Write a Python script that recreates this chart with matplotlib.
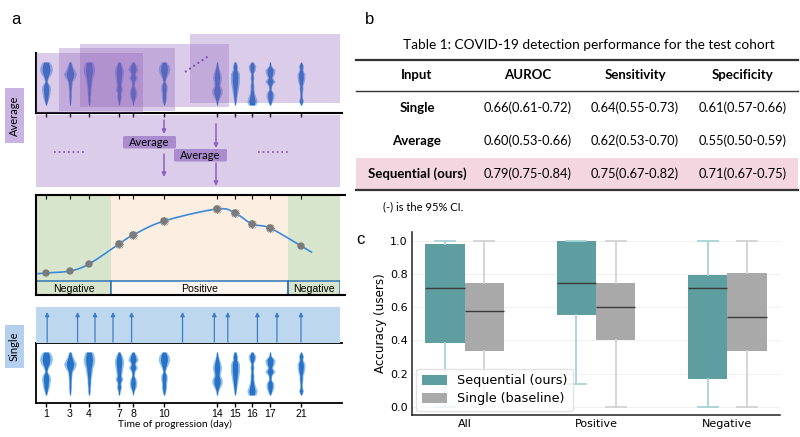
import numpy as np
import matplotlib
matplotlib.use("Agg")
import matplotlib.pyplot as plt
from matplotlib.patches import Rectangle, FancyBboxPatch, Patch

# ---------------- data ----------------
days = [1, 3, 4, 7, 8, 10, 14, 15, 16, 17, 21]
# horizontal slot of each recording on the (warped) time axis of panel a, in px
day_pos = [46, 70, 89, 119, 133, 164, 217, 235, 252, 270, 301]
# spectrogram-like half-width profiles (top -> bottom) for each recording
spec_halfwidth = [
    [3, 4.5, 5, 4, 2, 1, 3, 3.5, 3, 2.5, 1.5, 0.5],
    [1, 2, 3.5, 5, 4, 2, 1.5, 1.2, 1, 1, 0.8, 0.5],
    [3, 4, 4.5, 4, 3, 2.5, 2, 1.5, 1.5, 1, 1, 0.5],
    [1, 2.5, 3.5, 3.5, 3, 2.5, 2, 3, 1.5, 2, 1, 0.5],
    [1, 3, 4, 2, 3.5, 1.5, 1, 2.5, 3, 2.5, 1, 0.3],
    [2, 4, 4.5, 3.5, 2, 1, 2.5, 2.5, 2, 2, 1.5, 0.5],
    [0.5, 1, 2, 3, 3.5, 3, 2.5, 4, 4, 2.5, 1, 0.5],
    [1, 2, 2, 3.5, 3.5, 3.5, 3, 2.5, 2, 1.5, 1, 0.5],
    [1, 3, 2.5, 1, 1.5, 1, 1.5, 1.5, 2, 3, 4, 3],
    [0.5, 1, 4, 3.5, 2, 4, 1.5, 1, 3, 3, 2, 0.5],
    [0.5, 2, 1.5, 3, 3, 2.5, 1.5, 1.5, 1, 1, 2, 0.5],
]
score = [0.22, 0.24, 0.31, 0.51, 0.60, 0.74, 0.86, 0.82, 0.71, 0.67, 0.49]
status = ["neg", "neg", "neg", "pos", "pos", "pos", "pos", "pos", "pos", "pos", "neg"]
phase_edges_day = [6.2, 19.3]
phase_labels = ["Negative", "Positive", "Negative"]
single_arrow_day = [1.1, 3.4, 4.6, 6.4, 7.9, 11.4, 13.8, 14.6, 16.3, 17.9, 21.1]

table_title = "Table 1: COVID-19 detection performance for the test cohort"
table_header = ["Input", "AUROC", "Sensitivity", "Specificity"]
table_inputs = ["Single", "Average", "Sequential (ours)"]
auroc = ["0.66(0.61-0.72)", "0.60(0.53-0.66)", "0.79(0.75-0.84)"]
sensitivity = ["0.64(0.55-0.73)", "0.62(0.53-0.70)", "0.75(0.67-0.82)"]
specificity = ["0.61(0.57-0.66)", "0.55(0.50-0.59)", "0.71(0.67-0.75)"]
table_note = "(-) is the 95% CI."

groups = ["All", "Positive", "Negative"]
seq_lo = [0.0, 0.135, 0.0]
seq_q1 = [0.385, 0.555, 0.165]
seq_med = [0.715, 0.75, 0.715]
seq_q3 = [0.98, 1.0, 0.795]
seq_hi = [1.0, 1.0, 1.0]
base_lo = [0.0, 0.0, 0.0]
base_q1 = [0.335, 0.40, 0.335]
base_med = [0.575, 0.60, 0.54]
base_q3 = [0.75, 0.75, 0.81]
base_hi = [1.0, 1.0, 1.0]
series_names = ["Sequential (ours)", "Single (baseline)"]

# ---------------- figure ----------------
W, H = 800, 437
fig = plt.figure(figsize=(W / 100, H / 100), dpi=100)

def px_axes(x0, y0, x1, y1, **kw):
    return fig.add_axes([x0 / W, 1 - y1 / H, (x1 - x0) / W, (y1 - y0) / H], **kw)

PURPLE = "#8a5cb8"
ARROW_P = "#8e5fc0"
BLUE_LINE = "#2e75b6"
ARIAL = "Liberation Sans"
CAL = "Lato"

def draw_blobs(ax, with_bg=False):
    for x, prof in zip(day_pos, spec_halfwidth):
        w = 1.3 * np.array(prof, dtype=float)
        ys = np.linspace(51, 8, len(w))
        if with_bg:
            ax.add_patch(Rectangle((x - 6.5, 7), 13, 45, facecolor="white", alpha=0.45, lw=0, zorder=1))
        ax.fill_betweenx(ys, x - w, x + w, color="#4a97e0", alpha=0.6, lw=0, zorder=2)
        ax.fill_betweenx(ys, x - 0.6 * w, x + 0.6 * w, color="#1565c0", alpha=0.85, lw=0, zorder=3)

# --- top row (inputs for averaging)
ax_top = px_axes(36, 53, 342, 113)
ax_top.set_xlim(36, 342)
ax_top.set_ylim(0, 60)
ax_top.patch.set_alpha(0)
draw_blobs(ax_top, with_bg=True)
for s in ["top", "right"]:
    ax_top.spines[s].set_visible(False)
for s in ["left", "bottom"]:
    ax_top.spines[s].set_linewidth(1.5)
ax_top.set_xticks(day_pos)
ax_top.set_xticklabels([])
ax_top.set_yticks([])
ax_top.tick_params(axis="x", length=3, width=1)

# --- middle panel (sequential)
ax_mid = px_axes(36, 195, 340, 295)
ax_mid.set_xlim(36, 340)
ax_mid.set_ylim(0, 1)
edges_px = list(np.interp(phase_edges_day, days, day_pos))
bounds = [36] + edges_px + [340]
phase_cols = ["#d6e5cb", "#fcefe2", "#d6e5cb"]
for i in range(3):
    ax_mid.axvspan(bounds[i], bounds[i + 1], color=phase_cols[i], lw=0, zorder=0)
    ax_mid.add_patch(Rectangle((bounds[i], 0), bounds[i + 1] - bounds[i], 0.145,
                               facecolor="none" if i != 1 else "#fdf6ef",
                               edgecolor=BLUE_LINE, lw=1.1, zorder=2))
    ax_mid.text((bounds[i] + bounds[i + 1]) / 2, 0.065, phase_labels[i], ha="center", va="center",
                fontsize=7.6, family=ARIAL, zorder=3)

def catmull_rom(xs, ys, n=24):
    P = np.column_stack([xs, ys]).astype(float)
    P = np.vstack([2 * P[0] - P[1], P, 2 * P[-1] - P[-2]])
    out = []
    t = np.linspace(0, 1, n, endpoint=False)[:, None]
    for i in range(1, len(P) - 2):
        p0, p1, p2, p3 = P[i - 1], P[i], P[i + 1], P[i + 2]
        out.append(0.5 * (2 * p1 + (-p0 + p2) * t + (2 * p0 - 5 * p1 + 4 * p2 - p3) * t ** 2
                          + (-p0 + 3 * p1 - 3 * p2 + p3) * t ** 3))
    out.append(P[-2][None])
    return np.vstack(out)

xs = np.array(day_pos, float)
ys = np.array(score, float)
ext = 8
x_start = xs[0] - ext
y_start = ys[0] - ext * (ys[1] - ys[0]) / (xs[1] - xs[0])
x_end = xs[-1] + ext * 1.3
y_end = ys[-1] + ext * 1.3 * (ys[-1] - ys[-2]) / (xs[-1] - xs[-2])
curve = catmull_rom(np.r_[x_start, xs, x_end], np.r_[y_start, ys, y_end])
ax_mid.plot(curve[:, 0], curve[:, 1], color="#3b8ad9", lw=1.2, zorder=4)
pos_mask = np.array([s == "pos" for s in status])
ax_mid.scatter(xs[pos_mask], ys[pos_mask], marker=(16, 2, 0), s=38, color="#9a9a9a", lw=0.4, zorder=5)
ax_mid.scatter(xs, ys, marker="o", s=28, color="#7a7a7a", edgecolors="none", zorder=6)
ax_mid.spines["right"].set_visible(False)
for s in ["top", "bottom", "left"]:
    ax_mid.spines[s].set_linewidth(1.5)
ax_mid.set_yticks([])
ax_mid.set_xticks(day_pos)
ax_mid.tick_params(axis="x", top=True, bottom=False, labelbottom=False, direction="in", length=3)

# --- bottom row (single inputs)
ax_bot = px_axes(36, 343, 342, 403)
ax_bot.set_xlim(36, 342)
ax_bot.set_ylim(0, 60)
ax_bot.patch.set_alpha(0)
draw_blobs(ax_bot)
ax_bot.spines["right"].set_visible(False)
for s in ["left", "bottom", "top"]:
    ax_bot.spines[s].set_linewidth(1.3)
ax_bot.set_xticks(day_pos)
ax_bot.set_xticklabels([str(d) for d in days], fontsize=7.6, family=ARIAL)
ax_bot.set_yticks([])
ax_bot.tick_params(axis="x", length=3, width=1, pad=1.5)

# --- overlay for decorations and the table
ov = fig.add_axes([0, 0, 1, 1])
ov.set_xlim(0, W)
ov.set_ylim(H, 0)
ov.axis("off")

ov.text(175, 424, "Time of progression (day)", ha="center", va="center", fontsize=7.4, family=CAL)
# frame lines of the sequential panel run slightly past its right edge
for yy in (195, 295):
    ov.plot([340, 346], [yy, yy], color="black", lw=1.5, solid_capstyle="butt")

for (x0, y0, x1, y1) in [(36, 53, 143, 113), (59, 48, 175, 111), (80, 44, 229, 107), (190, 34, 340, 103)]:
    ov.add_patch(Rectangle((x0, y0), x1 - x0, y1 - y0, facecolor=PURPLE, alpha=0.3, lw=0))
ov.plot([185, 210], [72, 55], color="#7b4fb0", lw=1.4, ls=(0, (1, 1.6)))

# averaging band
ov.add_patch(Rectangle((36, 115), 304, 72, facecolor=PURPLE, alpha=0.3, lw=0))
for (xa, y0, y1) in [(164, 120, 134), (164, 154, 177), (216, 124, 148), (216, 163, 186)]:
    ov.annotate("", xy=(xa, y1), xytext=(xa, y0),
                arrowprops=dict(arrowstyle="-|>", color=ARROW_P, lw=1.1, mutation_scale=6, shrinkA=0, shrinkB=0))
for (x0, y0) in [(123, 136), (174, 149)]:
    ov.add_patch(FancyBboxPatch((x0, y0), 53, 12.5, boxstyle="round,pad=0,rounding_size=1.5",
                                facecolor="#a98bce", edgecolor="none"))
    ov.text(x0 + 26.5, y0 + 6.5, "Average", ha="center", va="center", fontsize=8, family=CAL)
for (x0, x1) in [(54, 86), (258, 290)]:
    ov.plot([x0, x1], [152, 152], color="#7b4fb0", lw=1.2, ls=(0, (1, 1.8)))

# side labels
ov.add_patch(Rectangle((5, 88), 19, 55, facecolor="#c8b3e2", lw=0))
ov.text(14.5, 115.5, "Average", rotation=90, ha="center", va="center", fontsize=8, family=CAL)
ov.add_patch(Rectangle((5, 325), 19, 43, facecolor="#b5cfee", lw=0))
ov.text(14.5, 346.5, "Single", rotation=90, ha="center", va="center", fontsize=8, family=CAL)

# single-input band with arrows
ov.add_patch(Rectangle((36, 307), 304, 36, facecolor="#bdd7ee", lw=0))
for d in single_arrow_day:
    xa = float(np.interp(d, days, day_pos))
    ov.annotate("", xy=(xa, 312), xytext=(xa, 342),
                arrowprops=dict(arrowstyle="-|>", color="#3a7fc8", lw=0.9, mutation_scale=6, shrinkA=0, shrinkB=0))

# panel letters
ov.text(16, 20, "a", fontsize=12, family=ARIAL, ha="center", va="center")
ov.text(370, 19, "b", fontsize=12, family=ARIAL, ha="center", va="center")
ov.text(360, 240, "c", fontsize=12, family=ARIAL, ha="center", va="center")

# table
TL, TR = 356, 798
ov.text(589, 45, table_title, ha="center", va="center", fontsize=9.8, family=CAL)
ov.add_patch(Rectangle((TL, 157.5), TR - TL, 32.5, facecolor="#f4d6e1", lw=0))
ov.plot([TL, TR], [60, 60], color="#333333", lw=1.6)
ov.plot([TL, TR], [91, 91], color="#333333", lw=1.0)
ov.plot([TL, TR], [190, 190], color="#333333", lw=1.6)
col_x = [417, 528, 635, 743]
for cx, h in zip(col_x, table_header):
    ov.text(cx, 75, h, ha="center", va="center", fontsize=9.5, family=CAL, fontweight="bold")
for i, name in enumerate(table_inputs):
    yy = 108 + 33 * i
    ov.text(col_x[0], yy, name, ha="center", va="center", fontsize=9.5, family=CAL, fontweight="bold")
    for cx, v in zip(col_x[1:], [auroc[i], sensitivity[i], specificity[i]]):
        ov.text(cx, yy, v, ha="center", va="center", fontsize=9.3, family=CAL)
ov.text(383, 207, table_note, ha="left", va="center", fontsize=8, family=CAL)

# ---------------- panel c ----------------
axc = px_axes(412, 232, 780, 415)
TEAL, GRAY = "#5f9ea0", "#a9a9a9"
centers = np.arange(len(groups))
bw = 0.3
for k, (lo, q1, med, q3, hi, col, wcol, off) in enumerate([
        (seq_lo, seq_q1, seq_med, seq_q3, seq_hi, TEAL, "#a9d3d4", -bw / 2),
        (base_lo, base_q1, base_med, base_q3, base_hi, GRAY, "#d2d2d2", bw / 2)]):
    stats = [dict(whislo=lo[i], q1=q1[i], med=med[i], q3=q3[i], whishi=hi[i], fliers=[]) for i in range(len(groups))]
    axc.bxp(stats, positions=centers + off, widths=bw, patch_artist=True, showfliers=False,
            boxprops=dict(facecolor=col, edgecolor="none", linewidth=0),
            whiskerprops=dict(color=wcol, linewidth=1.3),
            capprops=dict(color=wcol, linewidth=1.3),
            medianprops=dict(color="#3c3c3c", linewidth=1.0),
            manage_ticks=False)
axc.set_xlim(-0.4, 2.4)
axc.set_ylim(-0.05, 1.055)
axc.set_xticks(centers)
axc.set_xticklabels(groups, fontsize=8)
axc.set_yticks([0, 0.2, 0.4, 0.6, 0.8, 1.0])
axc.set_yticklabels(["0.0", "0.2", "0.4", "0.6", "0.8", "1.0"], fontsize=8)
axc.yaxis.grid(True, color="#f0f0f0", lw=0.8)
axc.set_axisbelow(True)
for s in ["top", "right"]:
    axc.spines[s].set_visible(False)
for s in ["left", "bottom"]:
    axc.spines[s].set_color("#222222")
    axc.spines[s].set_linewidth(1.1)
axc.tick_params(length=0, pad=3)
axc.set_ylabel("Accuracy (users)", fontsize=8.6, labelpad=2)
leg = axc.legend([Patch(facecolor=TEAL), Patch(facecolor=GRAY)], series_names, loc="lower left",
                 fontsize=9.2, handlelength=2.0, handleheight=0.8, frameon=True,
                 borderaxespad=0.3, labelspacing=0.4, borderpad=0.45)
leg.get_frame().set_edgecolor("#dddddd")

fig.savefig("out.png", dpi=100)
